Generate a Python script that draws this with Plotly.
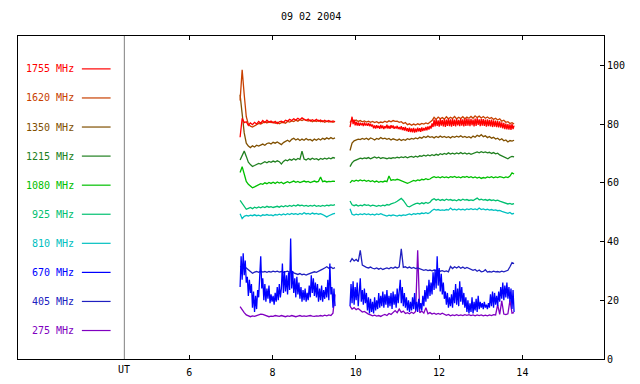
import numpy as np
import plotly.graph_objects as go

# ---------------- data ----------------
title_text = "09 02 2004"
freq_labels = ["1755 MHz", "1620 MHz", "1350 MHz", "1215 MHz", "1080 MHz",
               "925 MHz", "810 MHz", "670 MHz", "405 MHz", "275 MHz"]
x_ticks = [6, 8, 10, 12, 14]
y_ticks = [0, 20, 40, 60, 80, 100]

# sample time grids (UT hours) of the two recorded intervals
t1_start, t1_end = 7.22, 9.50
t2_start, t2_end = 9.86, 13.80

f1755_a = [75.5, 82.0, 80.5, 80.8, 79.6, 80.4, 79.8, 80.6, 80.0, 80.9,
           80.3, 81.2, 80.5, 81.3, 80.6, 81.0, 80.4, 80.9, 80.2, 80.8,
           81.0, 80.6, 81.3, 81.0, 81.6, 81.2, 81.8, 81.4, 82.0, 81.5,
           82.1, 81.6, 81.2, 81.7, 81.0, 81.5, 81.1, 81.6, 81.0, 81.4,
           80.8, 81.3, 80.9, 81.2, 80.7, 81.1, 80.8]
f1755_b = [79.0, 81.0, 82.5, 80.0, 81.5, 79.6, 80.8, 79.5, 80.6, 79.4,
           80.5, 79.6, 80.3, 79.3, 80.6, 79.5, 80.2, 79.4, 80.4, 79.3,
           80.1, 79.2, 79.8, 78.6, 79.5, 78.5, 79.6, 78.7, 79.4, 78.4,
           79.7, 78.6, 79.5, 78.3, 79.3, 78.6, 79.8, 78.5, 79.4, 78.4,
           79.6, 78.7, 79.5, 78.4, 79.2, 78.5, 79.4, 78.3, 79.0, 78.2,
           79.3, 78.0, 78.9, 77.8, 79.0, 77.6, 78.6, 77.4, 78.8, 77.3,
           78.5, 77.2, 78.7, 77.1, 78.4, 77.3, 78.8, 77.5, 78.6, 77.4,
           78.9, 77.6, 78.7, 77.8, 79.0, 77.9, 79.2, 78.1, 79.4, 78.5,
           80.2, 79.0, 81.5, 79.2, 81.6, 79.4, 81.3, 79.1, 81.8, 79.5,
           81.4, 79.2, 81.7, 79.0, 81.5, 79.4, 81.9, 79.3, 81.6, 79.1,
           81.8, 79.4, 81.5, 79.2, 81.7, 79.6, 81.4, 79.3, 81.9, 79.5,
           81.6, 79.2, 81.8, 79.4, 82.0, 79.5, 81.7, 79.3, 81.8, 79.6,
           81.5, 79.2, 81.9, 79.4, 82.0, 79.7, 81.6, 79.3, 81.8, 79.5,
           81.7, 79.4, 81.5, 79.1, 81.6, 79.3, 81.4, 79.2, 81.5, 79.0,
           81.3, 79.1, 81.2, 79.0, 81.0, 78.9, 80.9, 78.8, 80.6, 78.5,
           80.4, 78.3, 80.2, 78.2, 80.0, 78.1, 79.9, 78.0, 80.1, 78.3,
           79.5]

f1620_a = [88.0, 98.5, 90.0, 82.5, 80.0, 79.3, 79.0, 79.5, 79.8, 80.2,
           80.0, 80.3, 80.8, 80.4, 80.9, 80.5, 80.7, 80.3, 80.6, 80.1,
           80.5, 80.6, 80.3, 80.9, 80.7, 81.1, 80.9, 81.3, 81.0, 81.5,
           81.2, 81.6, 81.3, 81.0, 81.4, 80.8, 81.2, 80.9, 81.3, 80.8,
           81.1, 80.6, 81.0, 80.7, 81.0, 80.6, 80.9]
f1620_b = [80.5, 81.6, 81.0, 81.4, 80.9, 81.2, 80.8, 81.1, 80.7, 81.0,
           80.6, 80.9, 80.5, 80.8, 80.4, 80.7, 80.5, 81.0, 80.6, 81.1,
           80.8, 81.2, 80.9, 81.0, 80.6, 80.8, 80.2, 80.5, 79.8, 80.1,
           79.6, 80.0, 79.7, 80.1, 79.8, 80.2, 80.0, 80.4, 80.1, 80.6,
           81.2, 82.3, 81.6, 82.4, 81.8, 82.2, 81.7, 82.5, 81.8, 82.3,
           81.9, 82.6, 81.8, 82.3, 81.9, 82.5, 81.8, 82.4, 82.0, 82.6,
           82.0, 82.8, 82.2, 82.7, 82.1, 82.6, 82.0, 82.4, 81.9, 82.2,
           81.6, 82.0, 81.4, 81.8, 81.0, 81.3, 80.6, 80.8, 80.2, 80.5,
           80.0]

f1350_a = [90.0, 84.0, 77.0, 73.5, 72.5, 72.0, 72.6, 72.2, 72.8, 72.5,
           73.0, 73.2, 72.8, 73.4, 73.6, 73.2, 73.8, 73.5, 73.9, 73.4,
           73.0, 73.7, 74.2, 74.5, 74.0, 74.8, 75.2, 74.6, 75.0, 74.4,
           74.9, 74.5, 75.1, 74.6, 74.8, 74.3, 74.9, 74.5, 75.0, 74.6,
           75.2, 74.8, 75.3, 74.9, 75.4, 75.0, 75.3]
f1350_b = [71.0, 73.5, 74.3, 74.6, 74.9, 74.7, 75.1, 74.8, 75.2, 74.7,
           75.3, 75.0, 74.6, 75.1, 74.8, 75.4, 75.0, 75.2, 74.8, 75.1,
           74.6, 75.0, 74.7, 74.5, 74.9, 74.4, 74.8, 74.5, 75.0, 74.7,
           75.1, 74.9, 75.3, 75.0, 75.5, 75.2, 75.8, 75.4, 75.9, 75.5,
           75.7, 75.3, 75.8, 75.4, 75.9, 75.5, 75.8, 75.4, 75.7, 75.3,
           75.8, 75.5, 75.9, 75.6, 76.0, 75.5, 75.8, 75.4, 75.7, 75.3,
           75.9, 75.5, 76.2, 75.8, 76.4, 75.7, 76.0, 75.4, 75.8, 75.2,
           75.5, 74.9, 75.2, 74.6, 75.0, 74.3, 74.6, 73.9, 74.4, 74.2,
           74.5]

f1215_a = [67.8, 69.5, 70.8, 69.0, 67.0, 66.2, 65.6, 65.9, 66.3, 66.6,
           66.4, 66.9, 67.2, 66.8, 67.3, 67.0, 67.4, 67.1, 67.5, 67.2,
           66.4, 67.3, 67.8, 67.5, 68.0, 67.7, 68.2, 67.8, 68.3, 68.0,
           70.8, 68.1, 67.8, 68.3, 67.9, 68.4, 68.0, 68.2, 67.8, 68.3,
           68.0, 68.4, 68.1, 68.5, 68.2, 68.6, 68.4]
f1215_b = [65.5, 66.8, 67.5, 67.9, 68.1, 68.4, 68.2, 68.5, 68.3, 68.6,
           68.2, 68.5, 68.8, 68.4, 68.7, 68.3, 68.6, 68.4, 68.2, 68.5,
           68.3, 68.6, 68.4, 68.7, 68.5, 68.8, 68.6, 68.9, 68.5, 68.8,
           69.0, 68.7, 69.1, 68.8, 69.2, 69.0, 69.4, 69.1, 69.5, 69.2,
           69.6, 69.3, 69.7, 69.4, 69.9, 69.6, 70.0, 69.7, 70.2, 69.8,
           70.1, 69.8, 70.2, 69.9, 70.3, 69.9, 70.2, 69.8, 70.1, 69.7,
           70.0, 70.3, 70.5, 70.2, 70.6, 70.3, 70.5, 70.2, 70.4, 70.0,
           70.3, 69.9, 70.1, 69.5, 69.2, 68.8, 68.5, 68.2, 68.7, 69.0,
           68.8]

f1080_a = [63.5, 65.5, 63.0, 60.5, 59.5, 58.8, 58.3, 58.6, 58.9, 59.4,
           59.7, 59.5, 60.0, 59.7, 60.1, 59.8, 60.2, 59.8, 60.3, 59.9,
           60.2, 59.7, 60.1, 60.4, 60.0, 60.3, 60.6, 60.2, 60.5, 60.1,
           60.4, 60.6, 60.3, 60.5, 60.1, 60.4, 60.6, 60.3, 60.5, 62.0,
           60.4, 60.6, 60.3, 60.5, 60.4, 60.6, 60.5]
f1080_b = [60.0, 60.8, 60.5, 60.9, 60.6, 61.0, 60.7, 60.9, 60.5, 60.8,
           60.4, 60.7, 60.3, 60.6, 60.2, 60.5, 60.3, 60.6, 60.4, 62.3,
           60.8, 61.1, 60.9, 61.2, 61.0, 60.7, 60.3, 60.0, 59.8, 60.1,
           60.4, 60.8, 60.6, 61.0, 60.8, 61.2, 61.0, 61.4, 61.1, 61.3,
           61.8, 62.1, 61.8, 62.0, 61.7, 62.1, 61.8, 62.0, 61.7, 62.1,
           61.9, 62.2, 61.8, 62.0, 61.7, 62.1, 61.9, 62.2, 61.8, 62.1,
           61.7, 62.0, 61.6, 61.9, 61.5, 61.8, 61.6, 62.0, 61.8, 62.1,
           61.7, 62.0, 61.8, 62.1, 61.9, 61.7, 62.0, 61.8, 62.3, 63.4,
           63.0]

f925_a = [54.0, 53.0, 51.8, 51.0, 51.3, 51.6, 51.2, 51.7, 51.4, 51.8,
          51.5, 51.9, 51.6, 52.0, 51.7, 51.9, 51.6, 51.8, 52.0, 51.7,
          52.1, 51.8, 52.2, 51.9, 52.3, 52.0, 52.4, 52.1, 52.5, 52.2,
          52.4, 52.1, 52.3, 52.0, 52.3, 52.1, 52.4, 52.0, 52.2, 52.0,
          52.3, 52.1, 52.4, 52.2, 52.5, 52.3, 52.6]
f925_b = [53.8, 52.5, 52.2, 52.5, 52.1, 52.4, 52.2, 52.6, 52.3, 52.5,
          52.1, 52.4, 52.2, 52.0, 52.3, 52.1, 52.4, 52.2, 52.6, 52.4,
          52.8, 53.0, 53.3, 53.7, 54.3, 54.7, 54.0, 53.0, 52.0, 51.8,
          52.3, 52.6, 52.9, 53.1, 52.8, 53.2, 52.9, 53.3, 53.0, 53.4,
          54.2, 54.6, 54.1, 54.4, 54.0, 54.3, 54.0, 54.4, 54.1, 54.3,
          54.0, 54.2, 53.9, 54.3, 54.0, 54.4, 54.1, 54.3, 54.0, 54.2,
          54.0, 54.3, 54.8, 54.2, 54.4, 54.1, 54.3, 54.0, 54.3, 54.0,
          54.2, 53.9, 54.1, 53.8, 53.6, 53.3, 53.1, 52.8, 53.0, 52.7,
          52.9]

f810_a = [49.5, 47.8, 48.6, 48.9, 48.7, 49.0, 48.8, 49.1, 48.8, 49.0,
          48.7, 49.1, 48.9, 49.2, 48.9, 49.1, 48.8, 49.2, 49.0, 49.3,
          49.0, 49.4, 49.1, 49.5, 49.2, 49.6, 49.3, 49.5, 49.2, 49.6,
          49.3, 49.8, 49.4, 49.6, 49.3, 49.7, 49.4, 49.6, 49.3, 49.5,
          49.2, 48.8, 48.4, 48.8, 49.2, 49.4, 49.6]
f810_b = [51.2, 49.3, 49.0, 49.3, 49.1, 49.4, 49.2, 49.5, 49.2, 49.4,
          49.1, 49.3, 49.0, 49.4, 49.2, 49.5, 49.2, 49.0, 48.7, 49.0,
          48.8, 49.1, 48.9, 48.7, 49.0, 48.8, 49.1, 48.9, 49.2, 49.4,
          49.1, 49.5, 49.3, 49.6, 49.4, 49.7, 49.5, 49.8, 49.5, 49.9,
          50.6, 51.0, 50.7, 50.9, 50.6, 50.8, 50.6, 50.9, 50.7, 51.4,
          50.8, 51.0, 50.7, 51.1, 50.8, 51.0, 50.7, 51.1, 50.9, 51.2,
          50.9, 51.1, 50.8, 51.4, 50.9, 51.1, 50.8, 51.0, 50.7, 50.9,
          50.6, 50.8, 50.5, 50.6, 50.3, 50.1, 49.9, 49.6, 49.9, 49.4,
          49.6]

f670_a = [24.5, 35.0, 27.0, 36.0, 28.5, 33.5, 26.0, 28.0, 21.5, 27.0,
          22.5, 25.5, 17.5, 23.0, 16.0, 21.5, 17.0, 23.5, 21.0, 29.0,
          35.0, 24.0, 27.5, 20.0, 25.5, 19.5, 24.0, 20.5, 25.0, 19.0,
          22.0, 19.5, 21.5, 18.5, 22.5, 19.5, 24.5, 20.0, 25.5, 21.0,
          24.0, 32.5, 22.5, 30.0, 23.0, 28.5, 22.0, 29.5, 23.5, 41.0,
          24.0, 30.0, 22.5, 27.5, 21.0, 28.0, 22.0, 26.0, 20.5, 24.5,
          19.5, 23.5, 20.0, 24.0, 19.5, 22.5, 20.0, 25.0, 21.0, 28.5,
          22.5, 27.5, 21.5, 26.0, 21.0, 25.5, 19.5, 24.0, 20.0, 25.0,
          19.5, 23.5, 20.5, 24.5, 21.0, 27.0, 20.0, 32.5, 22.0, 24.5,
          17.5, 24.0, 18.0]
f670_b = [18.0, 25.5, 19.0, 26.5, 18.5, 24.5, 20.0, 26.0, 18.0, 23.5,
          27.5, 19.5, 23.5, 18.5, 24.0, 19.0, 22.5, 16.5, 21.0, 15.5,
          20.5, 16.0, 19.5, 15.5, 21.0, 16.5, 20.0, 17.0, 22.5, 17.5,
          21.5, 18.0, 23.0, 17.5, 22.0, 18.5, 23.5, 17.5, 21.5, 18.0,
          22.5, 17.0, 23.0, 18.5, 22.0, 17.5, 24.0, 19.0, 23.5, 27.0,
          19.0, 24.5, 18.0, 22.5, 17.5, 21.0, 16.5, 20.0, 16.0, 19.5,
          16.5, 21.0, 17.0, 22.5, 16.5, 19.5, 16.0, 20.5, 17.0, 19.0,
          16.5, 21.5, 18.0, 23.5, 19.5, 25.0, 20.5, 27.0, 21.5, 26.0,
          22.0, 29.5, 23.5, 30.5, 24.0, 35.0, 25.0, 31.0, 23.0, 29.0,
          22.0, 26.0, 20.5, 23.0, 18.5, 22.5, 17.5, 21.0, 18.0, 22.0,
          17.5, 23.5, 19.0, 25.5, 18.5, 24.0, 18.0, 26.5, 19.5, 24.5,
          18.5, 22.5, 17.5, 21.0, 16.0, 20.0, 15.5, 19.0, 16.0, 21.0,
          15.5, 19.5, 16.5, 20.5, 16.0, 21.5, 17.0, 19.5, 17.5, 19.0,
          17.0, 19.5, 17.5, 18.5, 17.0, 19.0, 17.5, 22.0, 18.0, 23.0,
          17.5, 22.5, 18.5, 21.5, 18.0, 23.0, 19.5, 24.5, 20.5, 26.0,
          20.0, 25.0, 21.0, 26.0, 20.5, 24.5, 19.5, 24.0, 17.0, 23.5,
          16.0]

f405_a = [31.5, 31.0, 30.8, 31.0, 30.5, 29.8, 29.2, 29.6, 29.8, 29.5,
          29.9, 29.6, 29.8, 29.5, 29.8, 29.6, 29.9, 29.7, 29.9, 29.6,
          29.8, 29.5, 29.7, 29.9, 29.6, 29.8, 29.3, 29.0, 28.8, 29.1,
          28.7, 28.9, 28.6, 28.9, 29.1, 29.4, 29.7, 29.5, 29.8, 30.2,
          30.6, 31.0, 31.4, 30.9, 31.3, 30.8, 31.1]
f405_b = [33.0, 34.2, 33.4, 33.9, 33.2, 37.0, 32.0, 31.5, 31.2, 31.0,
          31.3, 30.9, 30.7, 31.0, 30.6, 30.9, 30.5, 30.8, 31.0, 30.7,
          31.2, 30.9, 31.3, 31.0, 31.4, 37.5, 31.2, 31.4, 31.0, 31.3,
          30.9, 31.2, 30.8, 31.0, 30.7, 30.4, 30.2, 30.4, 30.1, 30.3,
          30.0, 30.3, 30.1, 30.2, 29.9, 30.1, 29.8, 30.0, 29.7, 31.5,
          30.8, 31.4, 31.0, 31.5, 30.9, 31.3, 30.8, 31.2, 30.9, 30.6,
          30.2, 30.5, 29.9, 30.3, 29.7, 29.8, 30.4, 29.6, 29.8, 29.6,
          29.9, 29.7, 29.8, 29.6, 29.9, 29.7, 29.9, 30.2, 31.4, 32.8,
          32.5]

f275_a = [17.8, 16.6, 15.8, 15.0, 14.6, 14.4, 14.7, 14.5, 14.8, 15.0,
          15.3, 15.2, 15.0, 14.6, 14.4, 14.6, 14.5, 14.8, 14.6, 14.5,
          14.8, 14.6, 14.4, 14.7, 14.5, 14.8, 14.6, 14.4, 14.6, 14.8,
          14.5, 14.7, 14.5, 14.6, 14.8, 14.6, 14.5, 14.7, 14.6, 14.8,
          14.6, 14.9, 14.7, 15.0, 14.8, 15.6, 22.0]
f275_b = [18.0, 17.0, 17.5, 16.8, 17.2, 16.5, 16.0, 16.2, 15.6, 15.3,
          15.0, 14.7, 14.9, 14.6, 14.8, 14.5, 14.9, 15.2, 14.8, 15.5,
          15.2, 15.8, 16.5, 15.8, 17.0, 15.9, 16.3, 15.5, 15.8, 15.4,
          15.9, 15.5, 16.2, 37.0, 15.8, 16.3, 15.6, 17.5, 15.4, 15.8,
          15.3, 15.6, 15.2, 15.5, 15.2, 15.6, 15.3, 14.9, 15.2, 14.7,
          15.0, 14.8, 15.1, 14.8, 15.0, 14.8, 15.1, 14.9, 15.1, 14.8,
          15.0, 14.7, 15.0, 14.8, 15.0, 14.7, 14.9, 14.7, 15.0, 14.8,
          15.1, 15.0, 18.5, 15.2, 19.8, 15.3, 15.1, 15.4, 20.0, 15.6,
          15.8]

# ---------------- styling ----------------
colors = ["#ff0000", "#c84000", "#805000", "#208020", "#00c000",
          "#00c070", "#00c0c0", "#0000ff", "#2020c0", "#8000c0"]
FONT = "DejaVu Sans Mono"

series = [(f1755_a, f1755_b), (f1620_a, f1620_b), (f1350_a, f1350_b),
          (f1215_a, f1215_b), (f1080_a, f1080_b), (f925_a, f925_b),
          (f810_a, f810_b), (f670_a, f670_b), (f405_a, f405_b),
          (f275_a, f275_b)]

fig = go.Figure()
# draw lowest frequency first so 1755 MHz lies on top
for i in reversed(range(len(series))):
    a, b = series[i]
    ta = np.linspace(t1_start, t1_end, len(a))
    tb = np.linspace(t2_start, t2_end, len(b))
    xs = list(ta) + [None] + list(tb)
    fig.add_trace(go.Scatter(x=xs, y=list(a) + [None] + list(b), mode="lines",
                             line=dict(color=colors[i], width=1.3),
                             connectgaps=False, hoverinfo="skip", showlegend=False))

# custom legend on the left side of the plot
leg_top, leg_step = 98.8, 9.9
leg_x0, leg_x1, leg_text_x = 3.42, 4.11, 3.27
ut_x = 4.44
shapes = [dict(type="line", xref="x", yref="paper", x0=ut_x, x1=ut_x, y0=0, y1=1,
               line=dict(color="#808080", width=1))]
annotations = []
for i, lab in enumerate(freq_labels):
    yy = leg_top - leg_step * i
    shapes.append(dict(type="line", xref="x", yref="y", x0=leg_x0, x1=leg_x1,
                       y0=yy, y1=yy, line=dict(color=colors[i], width=1.2)))
    annotations.append(dict(x=leg_text_x, y=yy, xref="x", yref="y", text=lab,
                            showarrow=False, xanchor="right", yanchor="middle",
                            font=dict(family=FONT, size=10, color=colors[i])))

annotations.append(dict(x=ut_x, y=-0.033, xref="x", yref="paper", text="UT",
                        showarrow=False, xanchor="center", yanchor="middle",
                        font=dict(family=FONT, size=10, color="black")))
annotations.append(dict(x=0.5, y=1.059, xref="paper", yref="paper", text=title_text,
                        showarrow=False, xanchor="center", yanchor="middle",
                        font=dict(family=FONT, size=10, color="black")))

# the page body has an 8px margin, so the figure is sized to fill the rest
fig.update_layout(
    width=632, height=376,
    margin=dict(l=10, r=36, t=28, b=25, autoexpand=False),
    paper_bgcolor="white", plot_bgcolor="white",
    showlegend=False,
    font=dict(family=FONT, size=10, color="black"),
    shapes=shapes, annotations=annotations,
)
fig.update_xaxes(range=[1.886, 15.96], tickvals=x_ticks, ticktext=[str(v) for v in x_ticks],
                 ticks="inside", ticklen=4, tickcolor="black", tickwidth=1,
                 showline=True, linecolor="black", linewidth=1, mirror="ticks",
                 showgrid=False, zeroline=False, ticklabelstandoff=4, automargin=False,
                 tickfont=dict(family=FONT, size=10, color="black"))
fig.update_yaxes(range=[0, 110], side="right", tickvals=y_ticks,
                 ticktext=[str(v) for v in y_ticks],
                 ticks="inside", ticklen=4, tickcolor="black", tickwidth=1,
                 showline=True, linecolor="black", linewidth=1, mirror=True,
                 showgrid=False, zeroline=False, automargin=False,
                 tickfont=dict(family=FONT, size=10, color="black"))

fig.write_html("out.html")
